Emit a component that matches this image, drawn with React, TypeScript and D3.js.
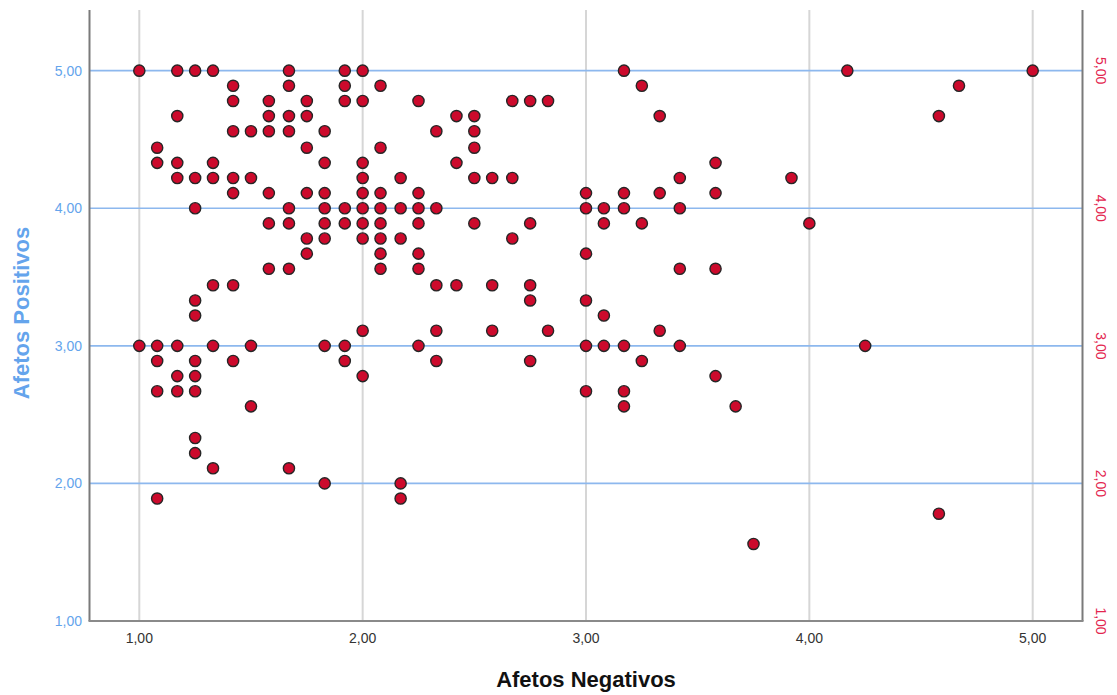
import React from "react";
import * as d3 from "d3";

// Scatter data: each point is (Afetos Negativos, Afetos Positivos)
const afetosNegativos: number[] = [
  1.0, 1.0,
  1.08, 1.08, 1.08, 1.08, 1.08, 1.08,
  1.17, 1.17, 1.17, 1.17, 1.17, 1.17, 1.17,
  1.25, 1.25, 1.25, 1.25, 1.25, 1.25, 1.25, 1.25, 1.25, 1.25,
  1.33, 1.33, 1.33, 1.33, 1.33, 1.33,
  1.42, 1.42, 1.42, 1.42, 1.42, 1.42, 1.42,
  1.5, 1.5, 1.5, 1.5,
  1.58, 1.58, 1.58, 1.58, 1.58, 1.58,
  1.67, 1.67, 1.67, 1.67, 1.67, 1.67, 1.67, 1.67,
  1.75, 1.75, 1.75, 1.75, 1.75, 1.75,
  1.83, 1.83, 1.83, 1.83, 1.83, 1.83, 1.83, 1.83,
  1.92, 1.92, 1.92, 1.92, 1.92, 1.92, 1.92,
  2.0, 2.0, 2.0, 2.0, 2.0, 2.0, 2.0, 2.0, 2.0, 2.0,
  2.08, 2.08, 2.08, 2.08, 2.08, 2.08, 2.08, 2.08,
  2.17, 2.17, 2.17, 2.17, 2.17,
  2.25, 2.25, 2.25, 2.25, 2.25, 2.25, 2.25,
  2.33, 2.33, 2.33, 2.33, 2.33,
  2.42, 2.42, 2.42,
  2.5, 2.5, 2.5, 2.5, 2.5,
  2.58, 2.58, 2.58,
  2.67, 2.67, 2.67,
  2.75, 2.75, 2.75, 2.75, 2.75,
  2.83, 2.83,
  3.0, 3.0, 3.0, 3.0, 3.0, 3.0,
  3.08, 3.08, 3.08, 3.08,
  3.17, 3.17, 3.17, 3.17, 3.17, 3.17,
  3.25, 3.25, 3.25,
  3.33, 3.33, 3.33,
  3.42, 3.42, 3.42, 3.42,
  3.58, 3.58, 3.58, 3.58,
  3.67,
  3.75,
  3.92,
  4.0,
  4.17,
  4.25,
  4.58, 4.58,
  4.67,
  5.0,
];

const afetosPositivos: number[] = [
  5.0, 3.0,
  4.44, 4.33, 3.0, 2.89, 2.67, 1.89,
  5.0, 4.67, 4.33, 4.22, 3.0, 2.78, 2.67,
  5.0, 4.22, 4.0, 3.33, 3.22, 2.89, 2.78, 2.67, 2.33, 2.22,
  5.0, 4.33, 4.22, 3.44, 3.0, 2.11,
  4.89, 4.78, 4.56, 4.22, 4.11, 3.44, 2.89,
  4.56, 4.22, 3.0, 2.56,
  4.78, 4.67, 4.56, 4.11, 3.89, 3.56,
  5.0, 4.89, 4.67, 4.56, 4.0, 3.89, 3.56, 2.11,
  4.78, 4.67, 4.44, 4.11, 3.78, 3.67,
  4.56, 4.33, 4.11, 4.0, 3.89, 3.78, 3.0, 2.0,
  5.0, 4.89, 4.78, 4.0, 3.89, 3.0, 2.89,
  5.0, 4.78, 4.33, 4.22, 4.11, 4.0, 3.89, 3.78, 3.11, 2.78,
  4.89, 4.44, 4.11, 4.0, 3.89, 3.78, 3.67, 3.56,
  4.22, 4.0, 3.78, 2.0, 1.89,
  4.78, 4.11, 4.0, 3.89, 3.67, 3.56, 3.0,
  4.56, 4.0, 3.44, 3.11, 2.89,
  4.67, 4.33, 3.44,
  4.67, 4.56, 4.44, 4.22, 3.89,
  4.22, 3.44, 3.11,
  4.78, 4.22, 3.78,
  4.78, 3.89, 3.44, 3.33, 2.89,
  4.78, 3.11,
  4.11, 4.0, 3.67, 3.33, 3.0, 2.67,
  4.0, 3.89, 3.22, 3.0,
  5.0, 4.11, 4.0, 3.0, 2.67, 2.56,
  4.89, 3.89, 2.89,
  4.67, 4.11, 3.11,
  4.22, 4.0, 3.56, 3.0,
  4.33, 4.11, 3.56, 2.78,
  2.56,
  1.56,
  4.22,
  3.89,
  5.0,
  3.0,
  4.67, 1.78,
  4.89,
  5.0,
];

const xTicks: number[] = [1, 2, 3, 4, 5];
const yTicks: number[] = [1, 2, 3, 4, 5];
const xTitle = "Afetos Negativos";
const yTitle = "Afetos Positivos";

const W = 1117;
const H = 695;
const FONT = "'Liberation Sans', Arial, sans-serif";

export default function App() {
  const left = 89.5;
  const right = 1082.5;
  const top = 10;
  const bottom = 621;

  const x = d3.scaleLinear().domain([0.777, 5.223]).range([left, right]);
  const y = d3.scaleLinear().domain([1, 5.441]).range([bottom, top]);
  const fmt = (v: number) => d3.format(".2f")(v).replace(".", ",");

  const points = afetosNegativos.map((xv, i) => ({ xv, yv: afetosPositivos[i] }));

  return (
    <svg
      width={W}
      height={H}
      style={{ position: "absolute", left: 0, top: 0, background: "#fff" }}
      fontFamily={FONT}
    >
      {/* vertical grid */}
      {xTicks.map((t) => (
        <line key={"vx" + t} x1={x(t)} x2={x(t)} y1={top} y2={bottom} stroke="#d6d6d6" strokeWidth={2} />
      ))}
      {/* horizontal grid */}
      {yTicks.filter((t) => t > 1).map((t) => (
        <line key={"hy" + t} x1={left} x2={right} y1={y(t)} y2={y(t)} stroke="#8db8ee" strokeWidth={1.6} />
      ))}
      {/* frame */}
      <line x1={left} x2={left} y1={top} y2={bottom} stroke="#7a7a7a" strokeWidth={2} />
      <line x1={right} x2={right} y1={top} y2={bottom} stroke="#7a7a7a" strokeWidth={2} />
      <line x1={left - 1} x2={right + 1} y1={bottom} y2={bottom} stroke="#8a8a8a" strokeWidth={2} />

      {/* left tick labels */}
      {yTicks.map((t) => (
        <text key={"ly" + t} x={82} y={y(t)} dy="0.35em" textAnchor="end" fontSize={14} fill="#64a4ec">
          {fmt(t)}
        </text>
      ))}
      {/* right tick labels, rotated */}
      {yTicks.map((t) => (
        <text
          key={"ry" + t}
          transform={`translate(1101,${y(t)}) rotate(90)`}
          dy="0.35em"
          textAnchor="middle"
          fontSize={14}
          fill="#e3264f"
        >
          {fmt(t)}
        </text>
      ))}
      {/* x tick labels */}
      {xTicks.map((t) => (
        <text key={"lx" + t} x={x(t)} y={643} textAnchor="middle" fontSize={14} fill="#333">
          {fmt(t)}
        </text>
      ))}

      {/* titles */}
      <text x={586} y={687} textAnchor="middle" fontSize={22} fontWeight="bold" fill="#111">
        {xTitle}
      </text>
      <text
        transform={`translate(29,313) rotate(-90)`}
        textAnchor="middle"
        fontSize={22}
        fontWeight="bold"
        fill="#64a4ec"
      >
        {yTitle}
      </text>

      {/* points */}
      {points.map((p, i) => (
        <circle key={i} cx={x(p.xv)} cy={y(p.yv)} r={5.6} fill="#cc0a2c" stroke="#262626" strokeWidth={1.4} />
      ))}
    </svg>
  );
}
